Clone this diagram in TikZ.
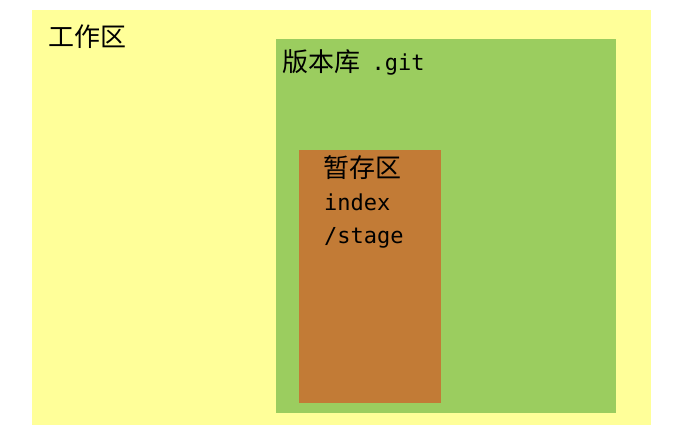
\documentclass[tikz,border=0pt]{standalone}
\usepackage{fontspec}
\setmonofont{DejaVu Sans Mono}
\newfontfamily\cjk{Noto Sans CJK SC}
\usetikzlibrary{positioning}
\definecolor{workyellow}{HTML}{FFFF99}
\definecolor{repogreen}{HTML}{9BCD5F}
\definecolor{stageorange}{HTML}{C27B36}

\begin{document}
\begin{tikzpicture}[x=1pt, y=-1pt, inner sep=0pt,
        area/.style={anchor=north west, draw=none},
        cjklabel/.style={anchor=base west, font=\cjk\fontsize{26}{33}\selectfont},
        ttlabel/.style={anchor=base west, font=\ttfamily\fontsize{22}{33}\selectfont}]
    \useasboundingbox (0,0) rectangle (689,440);
    \node (work)  [area, fill=workyellow,  minimum width=619pt, minimum height=415pt] at (32,10)   {};
    \node (repo)  [area, fill=repogreen,   minimum width=340pt, minimum height=374pt] at (276,39)  {};
    \node (stage) [area, fill=stageorange, minimum width=142pt, minimum height=253pt] at (299,150) {};
    \node (worklabel)  [cjklabel] at (48,46)  {工作区};
    \node (repolabel)  [cjklabel] at (282,71) {版本库};
    \node (gitlabel)   [ttlabel, right=11pt of repolabel.base east, anchor=base west, yshift=1pt] {.git};
    \node (stagelabel) [cjklabel] at (323,177) {暂存区};
    \node (indexlabel) [ttlabel] at (324,210) {index};
    \node (pathlabel)  [ttlabel] at (324,243) {/stage};
\end{tikzpicture}
\end{document}
